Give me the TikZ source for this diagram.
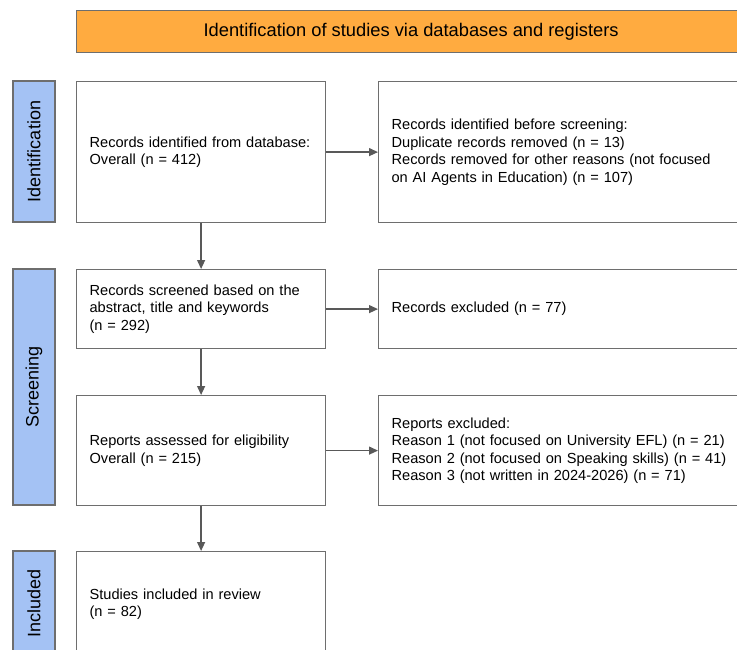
\documentclass[tikz,border=0pt]{standalone}
\usepackage{fontspec}
\setmainfont{Liberation Sans}
\usetikzlibrary{arrows.meta}
\definecolor{hdr}{RGB}{255,171,64}
\definecolor{sidefill}{RGB}{164,194,244}
\definecolor{edgegray}{RGB}{110,110,110}
\definecolor{arrgray}{RGB}{89,89,89}
\begin{document}
\begin{tikzpicture}[x=1pt,y=-1pt,
  box/.style={draw=edgegray, line width=1.2pt, fill=white, rectangle, inner xsep=13pt, inner ysep=0pt,
    anchor=north west, font=\fontsize{14.6}{17.5}\selectfont, align=left},
  sidebar/.style={draw=edgegray, line width=1.2pt, fill=sidefill, rectangle, inner sep=0pt,
    rotate=90, minimum height=42pt, font=\fontsize{18}{21}\selectfont},
  header/.style={draw=edgegray, line width=1.2pt, fill=hdr, rectangle, inner sep=0pt,
    anchor=north west, minimum width=669pt, minimum height=42pt, font=\fontsize{18.3}{21}\selectfont},
  flow/.style={draw=arrgray, line width=1.3pt, -{Triangle[length=9pt,width=8pt]}}
]
\useasboundingbox (0,0) rectangle (737,650);
\clip (0,0) rectangle (737,650);

\node[header] (hd) at (76,10) {Identification of studies via databases and registers};

\node[sidebar, minimum width=141pt] (sid) at (34,151.5) {Identification};
\node[sidebar, minimum width=236pt] (sscr) at (34,387) {Screening};
\node[sidebar, minimum width=105pt] (sinc) at (34,603.5) {Included};

\node[box, text width=223pt, minimum height=141pt] (b1) at (76,81)
  {Records identified from database:\\Overall (n = 412)};
\node[box, text width=341pt, minimum height=141pt] (b2) at (378,81)
  {Records identified before screening:\\Duplicate records removed (n = 13)\\Records removed for other reasons (not focused\\on AI Agents in Education) (n = 107)};

\node[box, text width=223pt, minimum height=79pt] (b3) at (76,269)
  {Records screened based on the\\abstract, title and keywords\\(n = 292)};
\node[box, text width=341pt, minimum height=79pt] (b4) at (378,269)
  {Records excluded (n = 77)};

\node[box, text width=223pt, minimum height=110pt] (b5) at (76,395)
  {Reports assessed for eligibility\\Overall (n = 215)};
\node[box, text width=341pt, minimum height=110pt] (b6) at (378,395)
  {Reports excluded:\\Reason 1 (not focused on University EFL) (n = 21)\\Reason 2 (not focused on Speaking skills) (n = 41)\\Reason 3 (not written in 2024-2026) (n = 71)};

\node[box, text width=223pt, minimum height=105pt] (b7) at (76,551)
  {Studies included in review\\(n = 82)};

\draw[flow] (b1.east) -- (b2.west);
\draw[flow] (b3.east) -- (b4.west);
\draw[flow] (b5.east) -- (b6.west);
\draw[flow] (b1.south) -- (b3.north);
\draw[flow] (b3.south) -- (b5.north);
\draw[flow] (b5.south) -- (b7.north);
\end{tikzpicture}
\end{document}
